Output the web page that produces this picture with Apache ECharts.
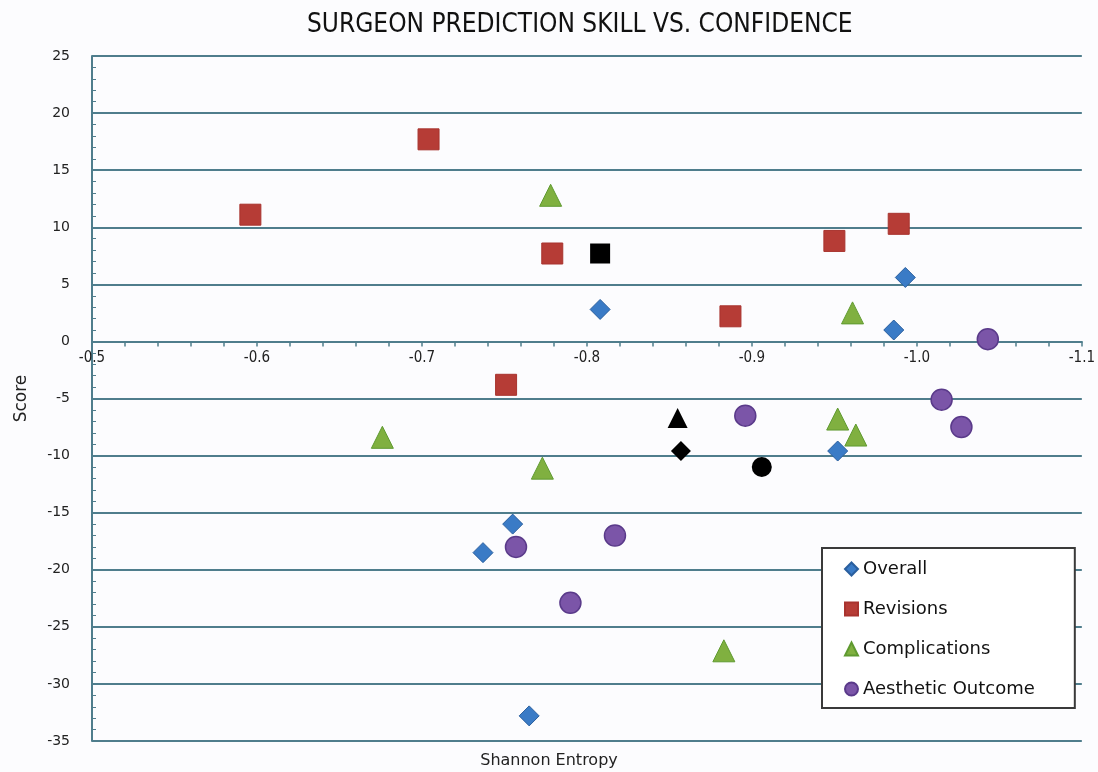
<!DOCTYPE html>
<html>
<head>
<meta charset="utf-8">
<script src="https://cdn.jsdelivr.net/npm/echarts@6/dist/echarts.min.js"></script>
<style>
html,body{margin:0;padding:0;background:#fcfcfe;}
#chart{width:1098px;height:772px;}
</style>
</head>
<body>
<div id="chart"></div>
<script>
const titleText = 'SURGEON PREDICTION SKILL VS. CONFIDENCE';
const xName = 'Shannon Entropy';
const yName = 'Score';
const seriesNames = ['Overall', 'Revisions', 'Complications', 'Aesthetic Outcome'];

const overall = [[-0.808, 2.8], [-0.993, 5.6], [-0.986, 1.0], [-0.952, -9.6], [-0.755, -16.0], [-0.737, -18.5], [-0.765, -32.8]];
const revisions = [[-0.596, 11.1], [-0.704, 17.7], [-0.779, 7.7], [-0.887, 2.2], [-0.950, 8.8], [-0.989, 10.3], [-0.751, -3.8]];
const complications = [[-0.778, 12.8], [-0.961, 2.5], [-0.676, -8.4], [-0.773, -11.1], [-0.952, -6.8], [-0.963, -8.2], [-0.883, -27.1]];
const aesthetic = [[-1.043, 0.2], [-0.896, -6.5], [-1.015, -5.1], [-1.027, -7.5], [-0.757, -18.0], [-0.817, -17.0], [-0.790, -22.9]];
// black summary markers: square, triangle, diamond, circle
const summaryPoints = [[-0.808, 7.7], [-0.855, -6.7], [-0.857, -9.6], [-0.906, -11.0]];
const summarySymbols = ['rect', 'triangle', 'diamond', 'circle'];

const font = "'DejaVu Sans', 'Noto Sans', sans-serif";
const narrow = "'Liberation Sans Narrow', 'DejaVu Sans Condensed', sans-serif";
const chart = echarts.init(document.getElementById('chart'));
const gridColor = '#4f7d8c';

chart.setOption({
  backgroundColor: '#fcfcfe',
  animation: false,
  title: [{
    text: titleText, left: 302, top: 7,
    textStyle: {fontFamily: narrow, fontSize: 26, fontWeight: 'normal', color: '#111'}
  }, {
    text: xName, left: 'center', top: 748,
    textStyle: {fontFamily: font, fontSize: 16, fontWeight: 'normal', color: '#222'}
  }],
  grid: {left: 92, right: 12, top: 56, bottom: 31, containLabel: false},
  xAxis: {
    type: 'value', inverse: true, min: -1.1, max: -0.5, interval: 0.1,
    axisLine: {onZero: false, lineStyle: {color: gridColor, width: 2}},
    axisTick: {show: true, length: 5, lineStyle: {color: gridColor, width: 1.5}},
    minorTick: {show: true, splitNumber: 5, length: 5, lineStyle: {color: gridColor, width: 1.5}},
    axisLabel: {formatter: v => v.toFixed(1), fontFamily: narrow, fontSize: 15, color: '#222', margin: 9},
    splitLine: {show: false}
  },
  yAxis: {
    type: 'value', min: -35, max: 25, interval: 5,
    name: yName, nameLocation: 'middle', nameGap: 62, nameRotate: 90,
    nameTextStyle: {fontFamily: font, fontSize: 17, color: '#222'},
    axisLine: {show: true, onZero: false, lineStyle: {color: gridColor, width: 2}},
    axisTick: {show: true, inside: true, length: 6, lineStyle: {color: gridColor, width: 1.5}},
    minorTick: {show: true, splitNumber: 5, length: 4, lineStyle: {color: gridColor, width: 1}},
    axisLabel: {fontFamily: font, fontSize: 14, color: '#222', margin: 22},
    splitLine: {show: true, lineStyle: {color: gridColor, width: 2}}
  },
  legend: {
    data: seriesNames, orient: 'vertical', left: 822, top: 548,
    backgroundColor: '#ffffff', borderColor: '#3a3a3a', borderWidth: 2, borderRadius: 0,
    padding: [12, 40, 10, 22], itemGap: 22, itemWidth: 13, itemHeight: 13,
    textStyle: {fontFamily: font, fontSize: 18, color: '#111'}
  },
  series: [
    {name: 'Overall', type: 'scatter', data: overall, symbol: 'diamond', symbolSize: 20,
     itemStyle: {color: '#3a7bc6', borderColor: '#2a5f9e', borderWidth: 1, opacity: 1}},
    {name: 'Revisions', type: 'scatter', data: revisions, symbol: 'rect', symbolSize: 21,
     itemStyle: {color: '#b63c36', borderColor: '#a8332e', borderWidth: 1, opacity: 1}},
    {name: 'Complications', type: 'scatter', data: complications, symbol: 'triangle', symbolSize: 22,
     itemStyle: {color: '#80b040', borderColor: '#5f9a30', borderWidth: 1, opacity: 1}},
    {name: 'Aesthetic Outcome', type: 'scatter', data: aesthetic, symbol: 'circle', symbolSize: 21,
     itemStyle: {color: '#7b55a8', borderColor: '#5a3a8a', borderWidth: 1.5, opacity: 1}},
    {name: 'Summary', type: 'scatter', symbolSize: 20,
     data: summaryPoints.map((p, i) => ({value: p, symbol: summarySymbols[i]})),
     itemStyle: {color: '#000', opacity: 1}}
  ]
});

// Place the x axis on the y = 0 line, using the library's own scale
const yZero = chart.convertToPixel({yAxisIndex: 0}, 0);
const yBottom = chart.convertToPixel({yAxisIndex: 0}, -35);
chart.setOption({xAxis: {offset: -(yBottom - yZero)}});
</script>
</body>
</html>
